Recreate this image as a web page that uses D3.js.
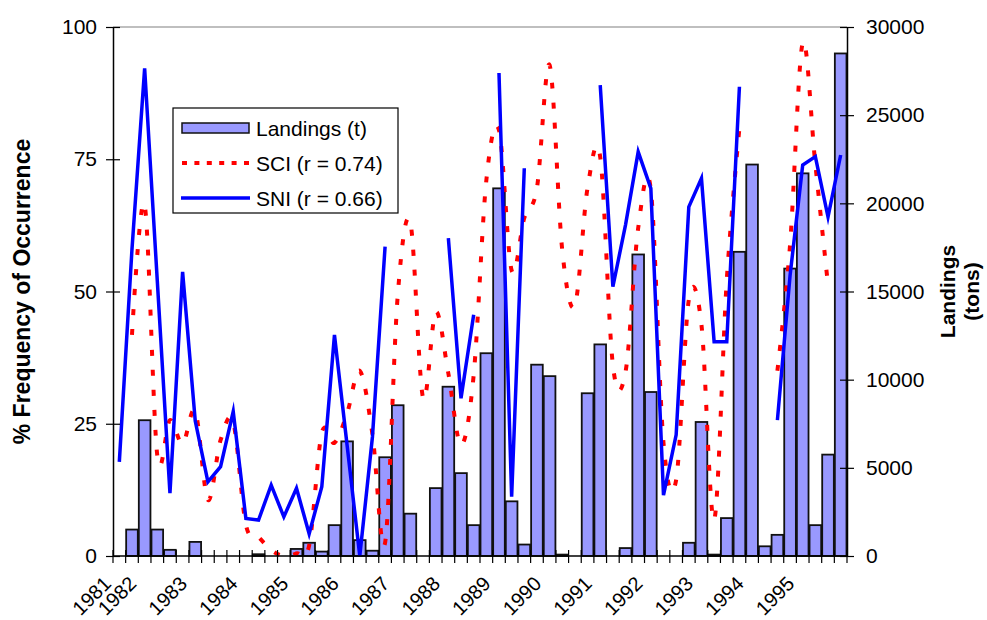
<!DOCTYPE html>
<html>
<head>
<meta charset="utf-8">
<script src="https://cdn.jsdelivr.net/npm/d3@7"></script>
<style>
  body { margin: 0; background: #fff; }
  svg { display: block; }
  text { font-family: "Liberation Sans", Arial, sans-serif; fill: #000; }
</style>
</head>
<body>
<svg id="chart" width="987" height="620"></svg>
<script>
// Quarterly series, 1981 Q3 - 1995 Q4
const quarters = [
  "1981-3","1981-4",
  "1982-1","1982-2","1982-3","1982-4",
  "1983-1","1983-2","1983-3","1983-4",
  "1984-1","1984-2","1984-3","1984-4",
  "1985-1","1985-2","1985-3","1985-4",
  "1986-1","1986-2","1986-3","1986-4",
  "1987-1","1987-2","1987-3","1987-4",
  "1988-1","1988-2","1988-3","1988-4",
  "1989-1","1989-2","1989-3","1989-4",
  "1990-1","1990-2","1990-3","1990-4",
  "1991-1","1991-2","1991-3","1991-4",
  "1992-1","1992-2","1992-3","1992-4",
  "1993-1","1993-2","1993-3","1993-4",
  "1994-1","1994-2","1994-3","1994-4",
  "1995-1","1995-2","1995-3","1995-4"
];

// Year label shown under the first quarter of each year
const yearLabels = [
  {q: "1981-3", label: "1981"}, {q: "1982-1", label: "1982"}, {q: "1983-1", label: "1983"},
  {q: "1984-1", label: "1984"}, {q: "1985-1", label: "1985"}, {q: "1986-1", label: "1986"},
  {q: "1987-1", label: "1987"}, {q: "1988-1", label: "1988"}, {q: "1989-1", label: "1989"},
  {q: "1990-1", label: "1990"}, {q: "1991-1", label: "1991"}, {q: "1992-1", label: "1992"},
  {q: "1993-1", label: "1993"}, {q: "1994-1", label: "1994"}, {q: "1995-1", label: "1995"}
];

// Landings (tons) per quarter
const landings = [
  0, 1500,
  7700, 1500, 350, 0,
  800, 0, 0, 0,
  0, 100, 0, 0,
  400, 750, 250, 1750,
  6500, 900, 300, 5600,
  8550, 2400, 0, 3850,
  9600, 4700, 1750, 11500,
  20850, 3100, 650, 10850,
  10200, 80, 0, 9230,
  12000, 0, 450, 17100,
  9300, 0, 0, 750,
  7600, 80, 2150, 17250,
  22200, 550, 1200, 16300,
  21700, 1750, 5750, 28500
];

// SCI, % frequency of occurrence (null = no sample)
const sci = [
  null, 41.8,
  66.4, 19, 25.7, 21.2,
  27.4, 10.6, 21.9, 25.3,
  5.9, 3.6, 1.1, 0,
  0.5, 2, 23.3, 21.4,
  27, 35, 23, 2.5,
  49.3, 63, 29.9, 46.1,
  34.5, 21, 34.2, 71,
  80.5, 54, 63.9, 69.6,
  92.8, 57.8, 47.4, 69.6,
  75.4, 36.1, 34.8, 62,
  69.2, 21.4, 14.4, 48.4,
  43.7, 6.8, 52.2, 80.9,
  null, null, 35, 58.8,
  97, 74, 51.2, null
];

// SNI, % frequency of occurrence (null = no sample)
const sni = [
  17.8, 58,
  92.2, 52, 11.9, 53.7,
  25.5, 14.0, 16.9, 27.3,
  7.1, 6.8, 13.4, 7.4,
  12.8, 4.2, 13.1, 41.8,
  20.9, 0, 22.5, 58.5,
  null, null, null, null,
  60.1, 29.8, 45.6, null,
  91.3, 11.2, 73.3, null,
  null, null, null, null,
  89.0, 50.9, 62.6, 76.4,
  69.5, 11.5, 22.9, 66.0,
  71.4, 40.5, 40.5, 88.7,
  null, null, 25.7, 53,
  73.9, 75.5, 64.1, 75.8
];

const pctTicks = [0, 25, 50, 75, 100];
const tonTicks = [0, 5000, 10000, 15000, 20000, 25000, 30000];

const seriesNames = ["Landings (t)", "SCI (r = 0.74)", "SNI (r = 0.66)"];

const svg = d3.select("#chart");
const plot = {left: 113, right: 847, top: 27, bottom: 556};

const x = d3.scaleBand()
  .domain(quarters)
  .range([plot.left, plot.right])
  .paddingInner(0.08)
  .paddingOuter(0.04);
const cx = q => x(q) + x.bandwidth() / 2;

const yPct = d3.scaleLinear().domain([0, 100]).range([plot.bottom, plot.top]);
const yTon = d3.scaleLinear().domain([0, 30000]).range([plot.bottom, plot.top]);

// plot area top border
svg.append("line")
  .attr("x1", plot.left).attr("x2", plot.right)
  .attr("y1", plot.top).attr("y2", plot.top)
  .attr("stroke", "#808080").attr("stroke-width", 1.2);

// bars: landings on the secondary axis
svg.append("g")
  .selectAll("rect")
  .data(quarters.map((q, i) => ({q, v: landings[i]})).filter(d => d.v > 0))
  .join("rect")
  .attr("x", d => x(d.q))
  .attr("width", x.bandwidth())
  .attr("y", d => yTon(d.v))
  .attr("height", d => yTon(0) - yTon(d.v))
  .attr("fill", "#9999FF")
  .attr("stroke", "#111")
  .attr("stroke-width", 1.8);

// lines
const sciData = quarters.map((q, i) => ({q, v: sci[i]}));
const sniData = quarters.map((q, i) => ({q, v: sni[i]}));

const sciLine = d3.line()
  .defined(d => d.v != null)
  .x(d => cx(d.q))
  .y(d => yPct(d.v))
  .curve(d3.curveCardinal.tension(0));

const sniLine = d3.line()
  .defined(d => d.v != null)
  .x(d => cx(d.q))
  .y(d => yPct(d.v));

svg.append("path")
  .datum(sciData)
  .attr("d", sciLine)
  .attr("fill", "none")
  .attr("stroke", "#FF0000")
  .attr("stroke-width", 4)
  .attr("stroke-dasharray", "6,14");

svg.append("path")
  .datum(sniData)
  .attr("d", sniLine)
  .attr("fill", "none")
  .attr("stroke", "#0000FF")
  .attr("stroke-width", 3.5)
  .attr("stroke-linejoin", "miter")
  .attr("stroke-miterlimit", 6);

// left axis
const leftAxis = svg.append("g")
  .attr("transform", `translate(${plot.left},0)`)
  .call(d3.axisLeft(yPct).tickValues(pctTicks).tickSize(7).tickPadding(9).tickSizeOuter(0));
leftAxis.selectAll(".tick line").attr("x1", 7).attr("x2", -7).attr("stroke", "#000").attr("stroke-width", 1.2);
leftAxis.select(".domain").attr("stroke", "#000").attr("stroke-width", 1.5);
leftAxis.selectAll(".tick text").style("font-size", "21px").attr("font-family", null);

// right axis
const rightAxis = svg.append("g")
  .attr("transform", `translate(${plot.right},0)`)
  .call(d3.axisRight(yTon).tickValues(tonTicks).tickFormat(d3.format("d"))
    .tickSize(7).tickPadding(12).tickSizeOuter(0));
rightAxis.selectAll(".tick line").attr("x1", -7).attr("x2", 7).attr("stroke", "#000").attr("stroke-width", 1.2);
rightAxis.select(".domain").attr("stroke", "#000").attr("stroke-width", 1.5);
rightAxis.selectAll(".tick text").style("font-size", "21px").attr("font-family", null);

// category axis
const bottom = svg.append("g");
bottom.append("line")
  .attr("x1", plot.left).attr("x2", plot.right)
  .attr("y1", plot.bottom).attr("y2", plot.bottom)
  .attr("stroke", "#000").attr("stroke-width", 1.5);
const boundaries = d3.range(quarters.length + 1).map(i => plot.left + i * x.step());
bottom.selectAll("line.tick")
  .data(boundaries)
  .join("line")
  .attr("class", "tick")
  .attr("x1", d => d).attr("x2", d => d)
  .attr("y1", plot.bottom - 6).attr("y2", plot.bottom + 7)
  .attr("stroke", "#000").attr("stroke-width", 1.2);
bottom.selectAll("text")
  .data(yearLabels)
  .join("text")
  .attr("transform", d => `translate(${cx(d.q) - 7},585) rotate(-45)`)
  .attr("text-anchor", "end")
  .style("font-size", "20px")
  .text(d => d.label);

// axis titles
svg.append("text")
  .attr("transform", `translate(30,${(plot.top + plot.bottom) / 2}) rotate(-90)`)
  .attr("text-anchor", "middle")
  .style("font-size", "23px")
  .style("font-weight", "bold")
  .text("% Frequency of Occurrence");

const rTitle = svg.append("text")
  .attr("transform", `translate(955,${(plot.top + plot.bottom) / 2}) rotate(-90)`)
  .attr("text-anchor", "middle")
  .style("font-size", "21px")
  .style("font-weight", "bold");
rTitle.append("tspan").attr("x", 0).attr("dy", 0).text("Landings");
rTitle.append("tspan").attr("x", 0).attr("dy", 24).text("(tons)");

// legend
const lg = svg.append("g");
lg.append("rect")
  .attr("x", 173).attr("y", 108).attr("width", 225).attr("height", 105)
  .attr("fill", "#fff").attr("stroke", "#000").attr("stroke-width", 1.2);
const rowY = [128, 163, 198];
lg.append("rect")
  .attr("x", 182).attr("y", rowY[0] - 5).attr("width", 67).attr("height", 10)
  .attr("fill", "#9999FF").attr("stroke", "#111").attr("stroke-width", 1.5);
lg.append("line")
  .attr("x1", 182).attr("x2", 249).attr("y1", rowY[1]).attr("y2", rowY[1])
  .attr("stroke", "#FF0000").attr("stroke-width", 4).attr("stroke-dasharray", "5,7.4");
lg.append("line")
  .attr("x1", 181).attr("x2", 250).attr("y1", rowY[2]).attr("y2", rowY[2])
  .attr("stroke", "#0000FF").attr("stroke-width", 3.5);
lg.selectAll("text.item")
  .data(seriesNames)
  .join("text")
  .attr("class", "item")
  .attr("x", 256)
  .attr("y", (d, i) => rowY[i] + 7.5)
  .style("font-size", "21px")
  .text(d => d);
</script>
</body>
</html>
